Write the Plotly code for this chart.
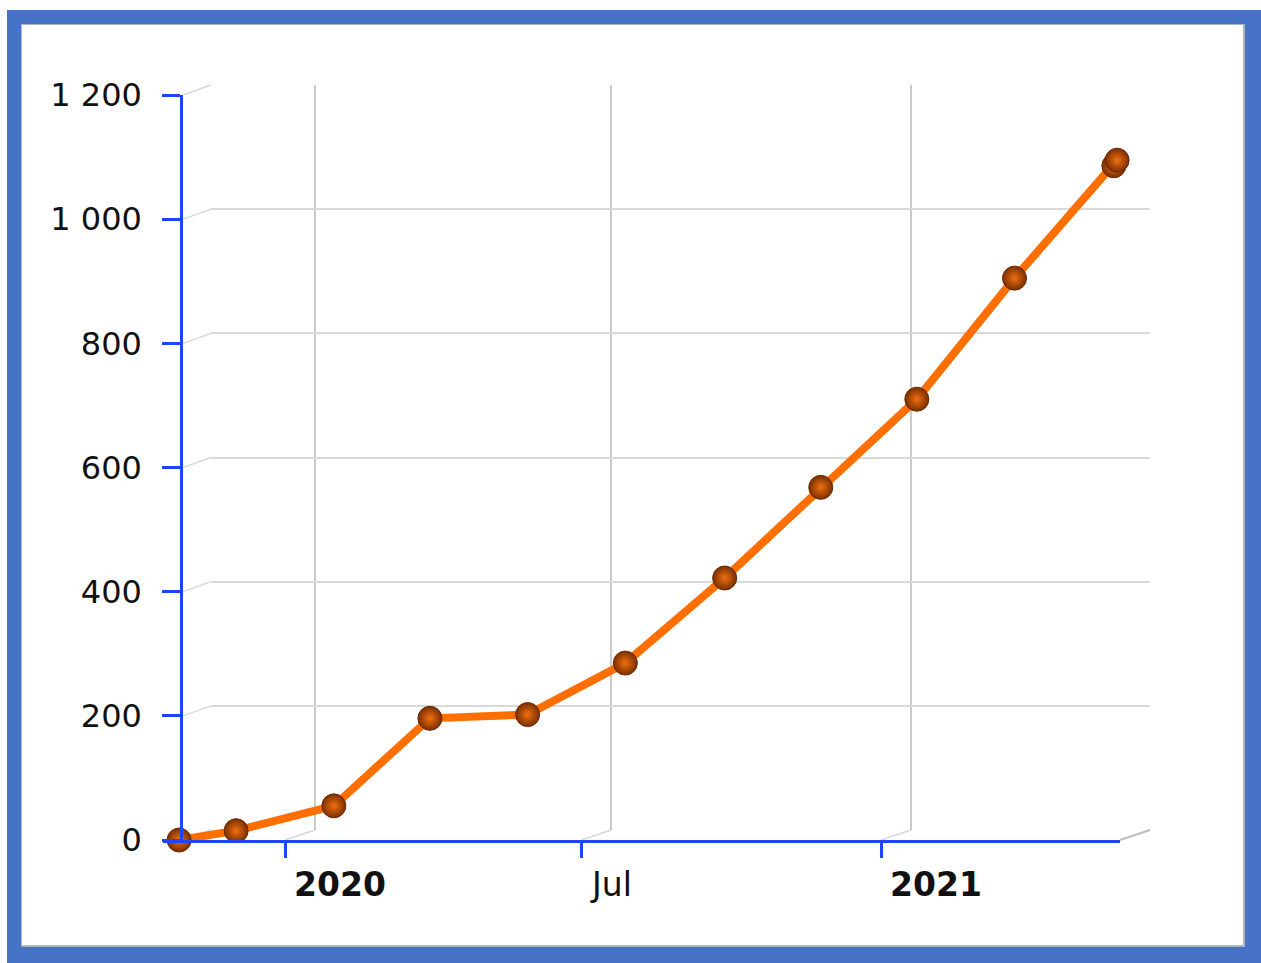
import plotly.graph_objects as go
import pandas as pd

# ---- data ----
dates = ["2019-10-28", "2019-12-02", "2020-01-31", "2020-03-30", "2020-05-29",
         "2020-07-28", "2020-09-27", "2020-11-25", "2021-01-23", "2021-03-24",
         "2021-05-24", "2021-05-26"]
values = [0, 15, 55, 196, 202, 285, 422, 568, 710, 905, 1086, 1095]

y_tickvals = [0, 200, 400, 600, 800, 1000, 1200]
y_ticktext = ["0", "200", "400", "600", "800", "1 000", "1 200"]
x_tickvals = ["2020-01-01", "2020-07-01", "2021-01-01"]
x_ticktext = ["<b>2020</b>", "Jul", "<b>2021</b>"]

# ---- layout geometry (screen pixels of the page) ----
OFF = 0
SW, SH = 1261, 963
W, H = SW - OFF, SH - OFF     # figure size
FX0, FX1 = 163, 1120          # front x extent
FY0, FY1 = 840, 95            # front y extent (bottom, top)
YAX = 181                     # y axis line position
DX, DY = 30, 10               # depth offset of the back wall
REF_A, REF_A_PX = pd.Timestamp("2020-01-01"), 285
REF_B, REF_B_PX = pd.Timestamp("2021-01-01"), 881
k = (REF_B_PX - REF_A_PX) / ((REF_B - REF_A) / pd.Timedelta(days=1))  # px per day

def px_to_date(p):
    return REF_A + pd.Timedelta(days=(p - REF_A_PX) / k)

def date_to_px(d):
    return REF_A_PX + ((pd.Timestamp(d) - REF_A) / pd.Timedelta(days=1)) * k

def px(x):
    return (x - OFF) / W

def py(y):
    return (H - (y - OFF)) / H

YMAX = 1200
def val_to_py(v):
    return FY0 - v * (FY0 - FY1) / YMAX

front_range = [px_to_date(FX0), px_to_date(FX1)]
back_range = [px_to_date(YAX), px_to_date(FX1)]

BLUE = "#1f45ff"
GRID = "#d9d9d9"
FONT = "DejaVu Sans, Verdana, sans-serif"

fig = go.Figure()
# back wall subplot (x/y) carries only grid lines; drawn first
fig.add_trace(go.Scatter(x=[back_range[0]], y=[0], xaxis="x", yaxis="y",
                         mode="markers", marker=dict(opacity=0), showlegend=False,
                         hoverinfo="skip"))
# front subplot (x2/y2) carries the data
fig.add_trace(go.Scatter(
    x=dates, y=values, mode="lines+markers", xaxis="x2", yaxis="y2",
    line=dict(color="#ff6f00", width=8),
    marker=dict(size=24, color="#7a2e00",
                gradient=dict(type="radial", color="#f07010"),
                line=dict(color="#6a2800", width=1)),
    cliponaxis=False, showlegend=False, hoverinfo="x+y",
))

shapes = []
# outer blue frame and white card
shapes.append(dict(type="rect", xref="paper", yref="paper",
                   x0=px(7), x1=px(SW + 2), y0=py(SH + 2), y1=py(10),
                   fillcolor="#4673c6", line=dict(width=0), layer="below"))
shapes.append(dict(type="rect", xref="paper", yref="paper",
                   x0=px(21), x1=px(1245), y0=py(947), y1=py(24),
                   fillcolor="#a8b4c8", line=dict(width=0), layer="below"))
shapes.append(dict(type="rect", xref="paper", yref="paper",
                   x0=px(22), x1=px(1243), y0=py(945), y1=py(25),
                   fillcolor="white", line=dict(width=0), layer="below"))
# depth connectors for horizontal grid lines
for v in y_tickvals:
    yy = val_to_py(v)
    shapes.append(dict(type="line", xref="paper", yref="paper",
                       x0=px(YAX + 2), y0=py(yy), x1=px(YAX + DX), y1=py(yy - DY),
                       line=dict(color=GRID, width=1.5), layer="below"))
# depth connectors for vertical grid lines
for d in x_tickvals:
    xx = date_to_px(d)
    shapes.append(dict(type="line", xref="paper", yref="paper",
                       x0=px(xx), y0=py(FY0), x1=px(xx + DX), y1=py(FY0 - DY),
                       line=dict(color=GRID, width=1.5), layer="below"))
# right end of floor
shapes.append(dict(type="line", xref="paper", yref="paper",
                   x0=px(FX1), y0=py(FY0), x1=px(FX1 + DX), y1=py(FY0 - DY),
                   line=dict(color="#bdbdbd", width=2), layer="below"))

annotations = []
for d, t in zip(x_tickvals, x_ticktext):
    annotations.append(dict(x=d, xref="x2", y=py(884), yref="paper",
                            text=t, showarrow=False, xanchor="left", yanchor="middle",
                            xshift=7, font=dict(family=FONT, size=33, color="#111111")))

fig.update_layout(
    width=W, height=H, autosize=False,
    margin=dict(l=0, r=0, t=0, b=0, pad=0),
    paper_bgcolor="white", plot_bgcolor="rgba(0,0,0,0)",
    shapes=shapes, annotations=annotations,
    # back wall
    xaxis=dict(domain=[px(YAX + DX), px(FX1 + DX)], range=back_range, type="date",
               anchor="y", tickvals=x_tickvals, showticklabels=False, ticks="",
               showline=False, showgrid=True, gridcolor="#cacaca", gridwidth=1.5,
               zeroline=False, automargin=False),
    yaxis=dict(domain=[py(FY0 - DY), py(FY1 - DY)], range=[0, YMAX],
               anchor="x", tickvals=y_tickvals, showticklabels=False, ticks="",
               showline=False, showgrid=True, gridcolor=GRID, gridwidth=1.5,
               zeroline=False, automargin=False),
    # front plane
    xaxis2=dict(domain=[px(FX0), px(FX1)], range=front_range, type="date",
                anchor="y2", showline=True, linecolor=BLUE, linewidth=2.5,
                ticks="outside", ticklen=15, tickwidth=2.5, tickcolor=BLUE,
                tickvals=x_tickvals, showticklabels=False, showgrid=False,
                zeroline=False, automargin=False),
    yaxis2=dict(domain=[py(FY0), py(FY1)], range=[0, YMAX],
                anchor="free", position=px(YAX), showline=True, linecolor=BLUE,
                linewidth=2.5, ticks="outside", ticklen=18, tickwidth=2.5,
                tickcolor=BLUE, tickvals=y_tickvals, ticktext=y_ticktext,
                tickfont=dict(family=FONT, size=32, color="#111111"),
                ticklabelstandoff=14, showgrid=False, zeroline=False,
                automargin=False),
)

fig.write_html("out.html", config={"displayModeBar": False},
               post_script="document.body.style.margin='0';"
                           "document.body.style.overflow='hidden';")
